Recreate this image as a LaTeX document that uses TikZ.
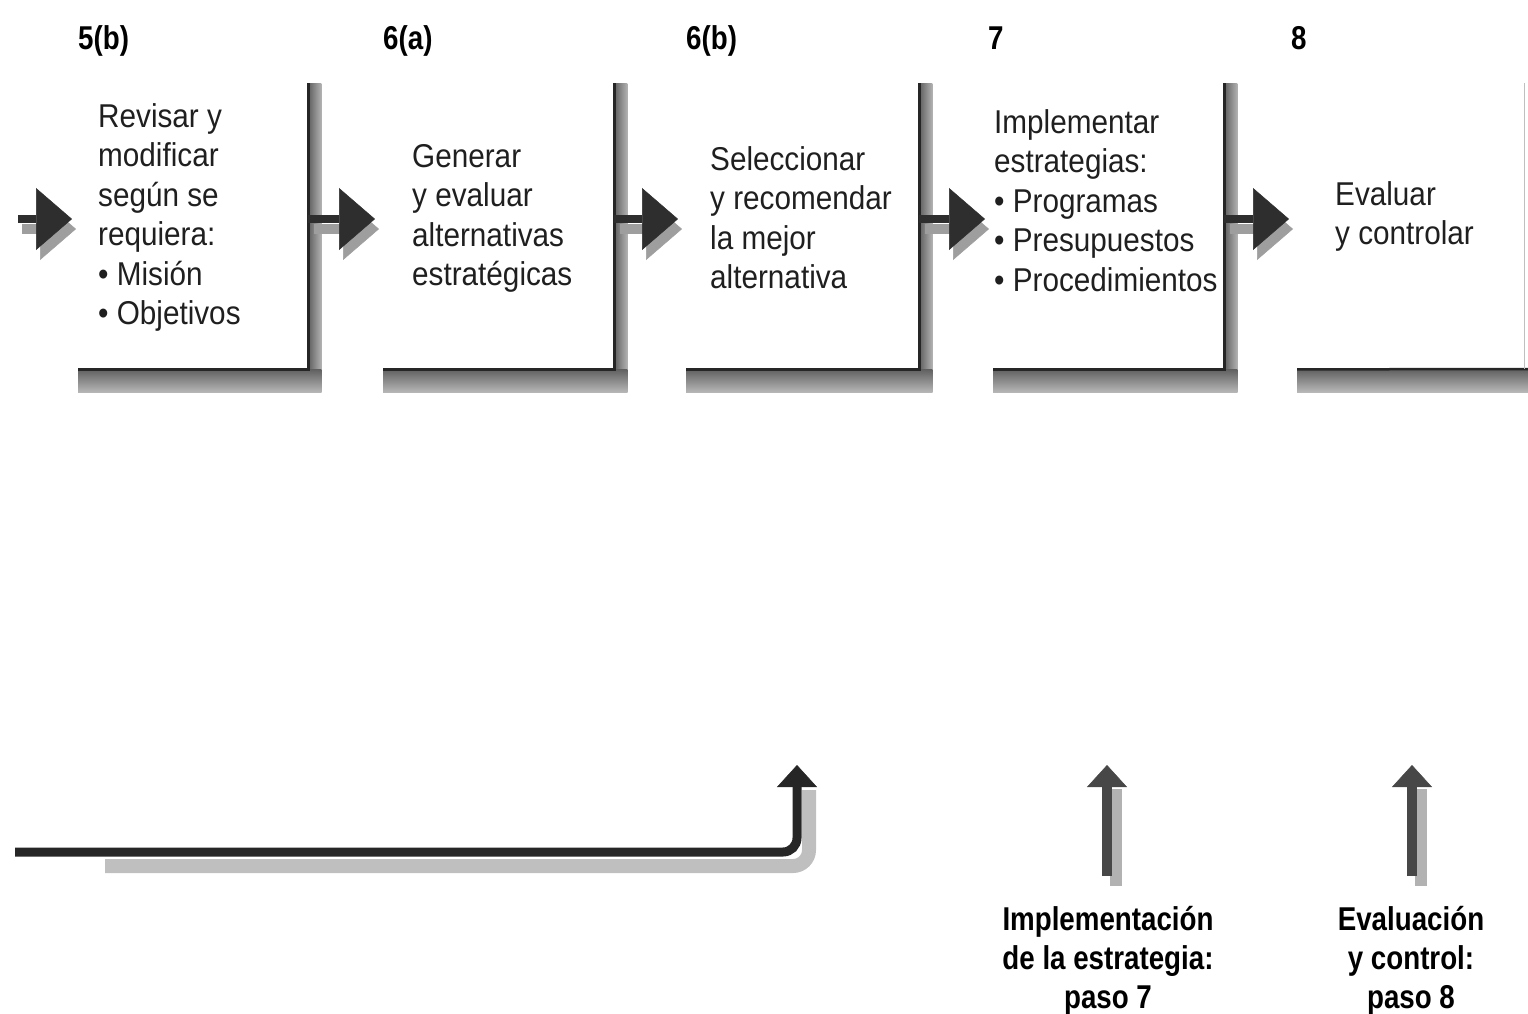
\documentclass[tikz,border=0pt]{standalone}
\usepackage{fontspec}
\newfontfamily\bodyfont[FakeStretch=0.9]{Liberation Sans}
\newfontfamily\labfont[FakeStretch=0.84]{Liberation Sans}
\usetikzlibrary{arrows.meta,calc}
\newcommand\leftlines[1]{\vtop{\lineskip=0pt\lineskiplimit=-100pt\halign{##\hfil\cr#1\crcr}}}
\newcommand\centerlines[1]{\vtop{\lineskip=0pt\lineskiplimit=-100pt\halign{\hfil##\hfil\cr#1\crcr}}}
\begin{document}
\begin{tikzpicture}[x=1pt,y=-1pt,
  boxtext/.style={anchor=base west, inner sep=0pt, text=black!88, font=\bodyfont\fontsize{33}{39.5}\selectfont},
  steplabel/.style={anchor=base west, inner sep=0pt, font=\labfont\bfseries\fontsize{33}{39}\selectfont},
  phaselabel/.style={anchor=base, inner sep=0pt, font=\labfont\bfseries\fontsize{33}{39}\selectfont},
  stagebox/.style={anchor=north west, inner sep=0pt, minimum height=286pt},
  hhead/.style={-{Triangle[width=62pt,length=36pt,line width=0.5pt]}},
  vhead/.style={-{Triangle[width=40pt,length=22pt,line width=0.5pt]}},
  hshadow/.style={hhead, draw=black!38, line width=10pt},
  hmain/.style={hhead, draw=black!82, line width=8pt},
  vmain/.style={vhead, draw=black!72, line width=10pt},
  vshadow/.style={draw=black!30, line width=12pt},
]
\useasboundingbox (0,0) rectangle (1528,1013);

% stage boxes
\node[stagebox, minimum width=230pt] (b1) at (78,83) {};
\node[stagebox, minimum width=231pt] (b2) at (383,83) {};
\node[stagebox, minimum width=233pt] (b3) at (686,83) {};
\node[stagebox, minimum width=231pt] (b4) at (993,83) {};
\node[stagebox, minimum width=227pt] (b5) at (1297,83) {};

% box shadows
\foreach \b in {b1,b2,b3,b4}{
  \shade[left color=black!62, right color=black!30] (\b.north east) rectangle ($(\b.south east)+(13,23)$);
  \shade[top color=black!62, bottom color=black!28] (\b.south west) rectangle ($(\b.south east)+(13,23)$);
  \draw[black!85, line width=2.5pt] (\b.north east) -- (\b.south east) -- (\b.south west);
}
\shade[top color=black!62, bottom color=black!28] (b5.south west) rectangle (1528,392);
\draw[black!85, line width=2.5pt] (b5.south west) -- (1528,369);
\draw[black!25, line width=1pt] (b5.north east) -- (b5.south east);

% step labels
\node[steplabel] (s1) at (78,49) {5(b)};
\node[steplabel] (s2) at (383,49) {6(a)};
\node[steplabel] (s3) at (686,49) {6(b)};
\node[steplabel] (s4) at (988,49) {7};
\node[steplabel] (s5) at (1291,49) {8};

% box texts
\node[boxtext] (t1) at (98,127) {\leftlines{Revisar y\cr modificar\cr según se\cr requiera:\cr \textbullet\ Misión\cr \textbullet\ Objetivos}};
\node[boxtext] (t2) at (412,167) {\leftlines{Generar\cr y evaluar\cr alternativas\cr estratégicas}};
\node[boxtext] (t3) at (710,170) {\leftlines{Seleccionar\cr y recomendar\cr la mejor\cr alternativa}};
\node[boxtext] (t4) at (994,133) {\leftlines{Implementar\cr estrategias:\cr \textbullet\ Programas\cr \textbullet\ Presupuestos\cr \textbullet\ Procedimientos}};
\node[boxtext] (t5) at (1335,205) {\leftlines{Evaluar\cr y controlar}};

% horizontal arrows
\coordinate (in) at (18,219);
\draw[hshadow] ($(in)+(4,10)$) -- ($(b1.west |- in)+(-2,10)$);
\draw[hmain] (in) -- ($(b1.west |- in)+(-6,0)$);
\foreach \a/\b in {b1/b2,b2/b3,b3/b4,b4/b5}{
  \draw[hshadow] ($(\a.east |- in)+(6,10)$) -- ($(\b.west |- in)+(-4,10)$);
  \draw[hmain] (\a.east |- in) -- ($(\b.west |- in)+(-8,0)$);
}

% feedback connector
\coordinate (fb) at (15,852);
\coordinate (fbtip) at (797,765);
\draw[black!25, line width=14pt, rounded corners=16pt] ($(fb)+(90,14)$) -- ($(fbtip |- fb)+(12,14)$) -- ($(fbtip)+(12,25)$);
\draw[vhead, black!85, line width=9pt, rounded corners=14pt] (fb) -- (fbtip |- fb) -- (fbtip);

% phase labels
\node[phaselabel] (l7) at (1108,930) {\centerlines{Implementación\cr de la estrategia:\cr paso 7}};
\node[phaselabel] (l8) at (1411,930) {\centerlines{Evaluación\cr y control:\cr paso 8}};

% up arrows
\coordinate (u7) at (1107,876);
\coordinate (h7) at (1107,765);
\coordinate (u8) at (1412,876);
\coordinate (h8) at (1412,765);
\draw[vshadow] ($(u7)+(9,10)$) -- ($(h7)+(9,24)$);
\draw[vshadow] ($(u8)+(9,10)$) -- ($(h8)+(9,24)$);
\draw[vmain] (u7) -- (h7);
\draw[vmain] (u8) -- (h8);
\end{tikzpicture}
\end{document}
